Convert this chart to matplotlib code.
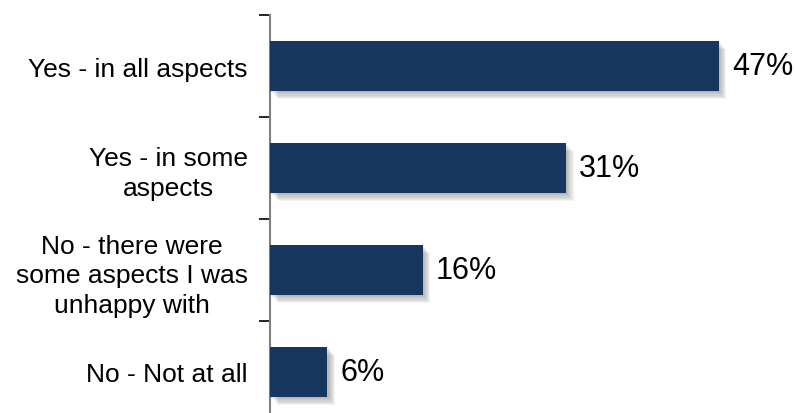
import matplotlib.pyplot as plt
import matplotlib.patheffects as pe
import numpy as np

plt.rcParams['font.family'] = ['Liberation Sans', 'DejaVu Sans']

# survey answers, top to bottom
categories = ["Yes - in all aspects",
              "Yes - in some\naspects",
              "No - there were\nsome aspects I was\nunhappy with",
              "No - Not at all"]
values = [47, 31, 16, 6]

fig = plt.figure(figsize=(7.95, 4.14), dpi=100)
ax = fig.add_axes([270 / 795, 1 - 424 / 414, 1 - 270 / 795, 408 / 414])

pos = np.arange(len(categories))
# soft drop shadow built from a few stacked offset shadows
shadow = [pe.SimplePatchShadow(offset=(d, -d), shadow_rgbFace='#555555', alpha=0.07)
          for d in np.linspace(1, 5.5, 7)]
bars = ax.barh(pos, values, height=0.49, color='#17375E', zorder=3)
for b in bars:
    b.set_path_effects(shadow + [pe.Normal()])

for p, v in zip(pos, values):
    ax.text(v + 1.4, p, f"{v}%", va='center', ha='left', fontsize=22, color='black')

ax.set_xlim(0, 55)
ax.set_ylim(3.5, -0.5)
ax.set_yticks(pos)
ax.set_yticklabels(categories, fontsize=19, multialignment='center', linespacing=1.3)
ax.tick_params(axis='y', which='major', length=0, pad=16)
ax.set_yticks(np.arange(-0.5, 4, 1), minor=True)
ax.tick_params(axis='y', which='minor', length=8, width=1.2, color='black')
ax.set_xticks([])

for s in ['top', 'right', 'bottom']:
    ax.spines[s].set_visible(False)
ax.spines['left'].set_color('#808080')
ax.spines['left'].set_linewidth(1.5)

fig.savefig("out.png", dpi=100)
